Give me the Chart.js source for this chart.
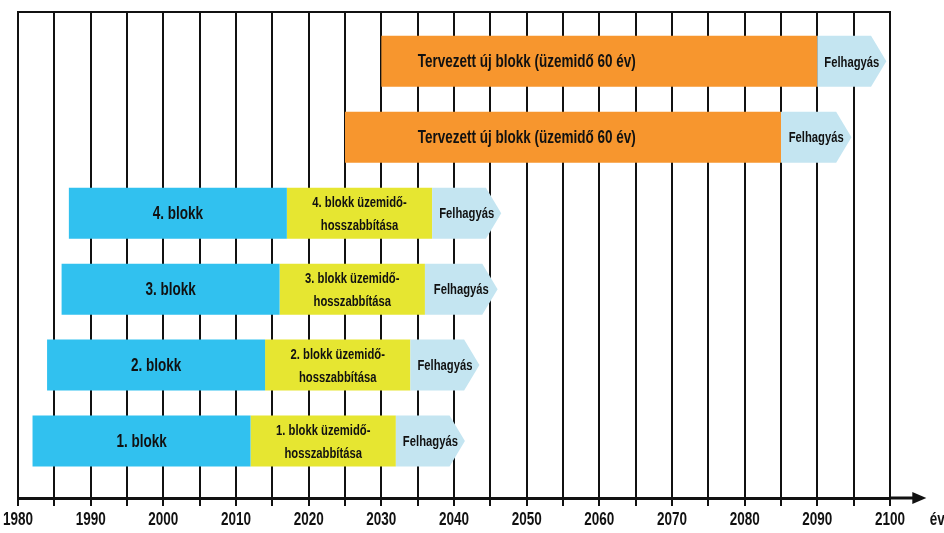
<!DOCTYPE html>
<html lang="hu">
<head>
<meta charset="utf-8">
<title>Blokkok üzemideje</title>
<script src="https://cdn.jsdelivr.net/npm/chart.js@4.4.1/dist/chart.umd.min.js"></script>
<style>
  html, body { margin: 0; padding: 0; background: #ffffff; }
  #wrap { width: 944px; height: 533px; position: relative; }
</style>
</head>
<body>
<div id="wrap"><canvas id="chart"></canvas></div>
<script>
// ===============================
// DATA
// ===============================
const tickYears = [1980, 1990, 2000, 2010, 2020, 2030, 2040, 2050, 2060, 2070, 2080, 2090, 2100];

// rows counted from the bottom (1 = 1. blokk)
const unitRows = [1, 2, 3, 4];
const unitLabels = ["1. blokk", "2. blokk", "3. blokk", "4. blokk"];
const unitStart = [1982, 1984, 1986, 1987];
const unitEnd = [2012, 2014, 2016, 2017];

const extensionLabels = [
    ["1. blokk üzemidő-", "hosszabbítása"],
    ["2. blokk üzemidő-", "hosszabbítása"],
    ["3. blokk üzemidő-", "hosszabbítása"],
    ["4. blokk üzemidő-", "hosszabbítása"]
];
const extensionEnd = [2032, 2034, 2036, 2037];

const newUnitRows = [5, 6];
const newUnitLabels = ["Tervezett új blokk (üzemidő 60 év)", "Tervezett új blokk (üzemidő 60 év)"];
const newUnitStart = [2025, 2030];
const newUnitEnd = [2085, 2090];
const newUnitLabelYear = [2050, 2050];

const closureRows = [1, 2, 3, 4, 5, 6];
const closureLabel = "Felhagyás";
const closureEnd = [2041.5, 2043.5, 2046, 2046.5, 2094.7, 2099.5];

const axisLabel = "év";
const axisArrowYear = 2105;

// ===============================
// STYLE
// ===============================
const FONT = '"Liberation Sans", Arial, sans-serif';
const INK = "#111111";
const SQUEEZE = 0.75;   // narrow look of the original lettering

function floating(rows, starts, ends) {
    return rows.map((r, i) => ({ x: [starts[i], ends[i]], y: r }));
}

// narrow bold text, centred on (x, y)
function narrowText(ctx, text, x, y, size) {
    ctx.save();
    ctx.translate(x, y);
    ctx.scale(SQUEEZE, 1);
    ctx.font = "bold " + size + "px " + FONT;
    ctx.fillStyle = INK;
    ctx.textAlign = "center";
    ctx.textBaseline = "middle";
    ctx.fillText(text, 0, 0);
    ctx.restore();
}

const closureStart = extensionEnd.concat(newUnitEnd);

// ===============================
// LABEL + ARROW SHAPE PLUGIN
// ===============================
const barLabels = {
    id: "barLabels",
    afterDatasetsDraw(chart) {
        const ctx = chart.ctx;
        const xScale = chart.scales.x;
        chart.data.datasets.forEach((ds, di) => {
            const meta = chart.getDatasetMeta(di);
            meta.data.forEach((bar, i) => {
                const p = bar.getProps(["x", "y", "base", "height"], true);
                const top = p.y - p.height / 2;
                const bottom = p.y + p.height / 2;

                if (ds.arrowShape) {
                    const depth = p.height * 0.3;
                    ctx.save();
                    ctx.fillStyle = ds.shapeColor;
                    ctx.beginPath();
                    ctx.moveTo(p.base, top);
                    ctx.lineTo(p.x - depth, top);
                    ctx.lineTo(p.x, p.y);
                    ctx.lineTo(p.x - depth, bottom);
                    ctx.lineTo(p.base, bottom);
                    ctx.closePath();
                    ctx.fill();
                    ctx.restore();
                }

                const text = Array.isArray(ds.labels) ? ds.labels[i] : ds.labels;
                const lines = [].concat(text);
                const gap = ds.lineGap || 0;
                const cx = ds.labelYears
                    ? xScale.getPixelForValue(ds.labelYears[i])
                    : (p.x + p.base) / 2;

                lines.forEach((t, k) => {
                    narrowText(ctx, t, cx, p.y + 1 + (k - (lines.length - 1) / 2) * gap, ds.labelSize);
                });
            });
        });
    }
};

const frame = {
    id: "frame",
    afterDraw(chart) {
        const ctx = chart.ctx;
        const area = chart.chartArea;
        const xScale = chart.scales.x;

        // top border
        ctx.save();
        ctx.strokeStyle = INK;
        ctx.lineWidth = 2;
        ctx.beginPath();
        ctx.moveTo(area.left - 1, area.top);
        ctx.lineTo(area.right + 1, area.top);
        ctx.stroke();

        // axis extension with arrow head
        const tip = xScale.getPixelForValue(axisArrowYear);
        const y = area.bottom;
        ctx.lineWidth = 3;
        ctx.beginPath();
        ctx.moveTo(area.right, y);
        ctx.lineTo(tip - 10, y);
        ctx.stroke();
        ctx.fillStyle = INK;
        ctx.beginPath();
        ctx.moveTo(tip - 14, y - 6);
        ctx.lineTo(tip, y);
        ctx.lineTo(tip - 14, y + 6);
        ctx.closePath();
        ctx.fill();
        ctx.restore();

        // year labels and unit
        tickYears.forEach((yr) => {
            narrowText(ctx, String(yr), xScale.getPixelForValue(yr), y + 22, 18);
        });
        narrowText(ctx, axisLabel, tip + 11, y + 22, 18);
    }
};

// ===============================
// CHART
// ===============================
const ctx = document.getElementById("chart").getContext("2d");

new Chart(ctx, {
    type: "bar",
    data: {
        datasets: [
            {
                label: "blokk",
                data: floating(unitRows, unitStart, unitEnd),
                backgroundColor: "#31c1ef",
                labels: unitLabels,
                labelSize: 18
            },
            {
                label: "üzemidő-hosszabbítás",
                data: floating(unitRows, unitEnd, extensionEnd),
                backgroundColor: "#e6e631",
                labels: extensionLabels,
                labelSize: 15,
                lineGap: 23
            },
            {
                label: "Tervezett új blokk",
                data: floating(newUnitRows, newUnitStart, newUnitEnd),
                backgroundColor: "#f7962e",
                labels: newUnitLabels,
                labelYears: newUnitLabelYear,
                labelSize: 18
            },
            {
                label: closureLabel,
                data: floating(closureRows, closureStart, closureEnd),
                backgroundColor: "rgba(0,0,0,0)",
                arrowShape: true,
                shapeColor: "#c4e5f1",
                labels: closureLabel,
                labelSize: 15
            }
        ]
    },
    options: {
        indexAxis: "y",
        responsive: true,
        maintainAspectRatio: false,
        animation: false,
        layout: {
            padding: { left: 18, right: 54, top: 12, bottom: 0 }
        },
        datasets: {
            bar: {
                grouped: false,
                categoryPercentage: 1,
                barPercentage: 0.672,
                borderWidth: 0
            }
        },
        plugins: {
            legend: { display: false },
            tooltip: { enabled: false }
        },
        scales: {
            x: {
                type: "linear",
                min: 1980,
                max: 2100,
                afterFit: (scale) => { scale.height = 35; },
                ticks: {
                    display: false,
                    stepSize: 5,
                    autoSkip: false
                },
                grid: {
                    color: INK,
                    lineWidth: 2,
                    drawTicks: true,
                    tickLength: 8
                },
                border: {
                    display: true,
                    color: INK,
                    width: 3
                }
            },
            y: {
                type: "linear",
                min: 0.25,
                max: 6.65,
                offset: false,
                display: false,
                afterBuildTicks: (scale) => {
                    scale.ticks = closureRows.map((v) => ({ value: v }));
                }
            }
        }
    },
    plugins: [barLabels, frame]
});
</script>
</body>
</html>
